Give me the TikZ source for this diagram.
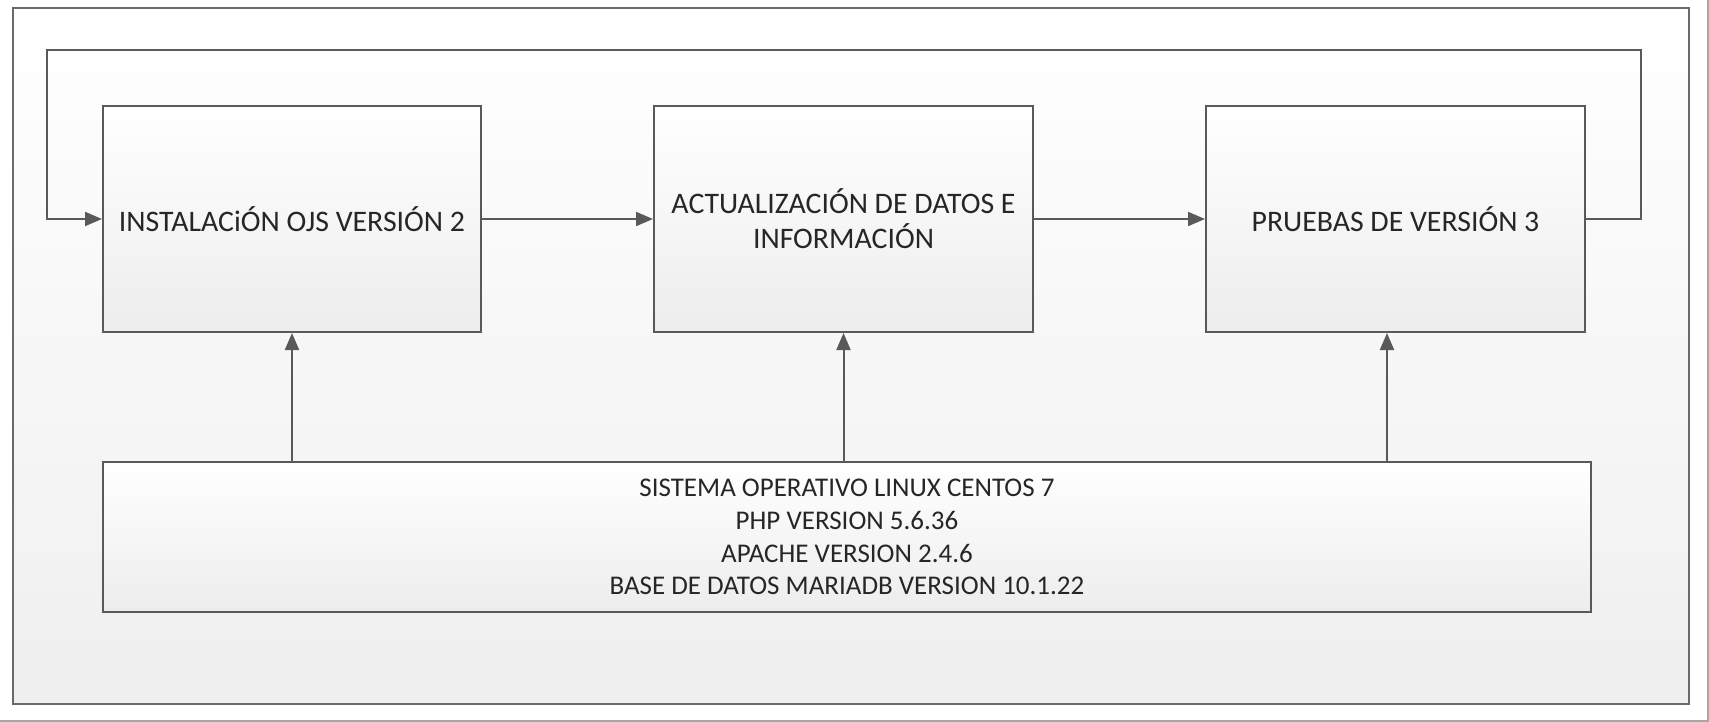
\documentclass[tikz,border=0pt]{standalone}
\usepackage{fontspec}
\setmainfont{Carlito}
\usetikzlibrary{arrows.meta}
\definecolor{linegray}{HTML}{595959}
\definecolor{framegray}{HTML}{6A6A6A}
\definecolor{txt}{HTML}{262626}
\definecolor{fillbot}{HTML}{EDEDED}
\definecolor{framebot}{HTML}{EFEFEF}
\tikzset{
  procbox/.style={draw=linegray, line width=2pt, top color=white, bottom color=fillbot,
    minimum width=378pt, minimum height=226pt, inner sep=0pt, align=center,
    text=txt, font=\fontsize{29.8}{35}\selectfont},
  basebox/.style={draw=linegray, line width=2pt, top color=white, bottom color=fillbot,
    minimum width=1488pt, minimum height=150pt, inner sep=0pt, align=center,
    text=txt, font=\fontsize{27}{32.7}\selectfont},
  arr/.style={draw=linegray, line width=2pt, -{Triangle[length=17pt,width=14pt]}},
  link/.style={draw=linegray, line width=2pt},
}
\begin{document}
\begin{tikzpicture}[x=1pt,y=-1pt]
\useasboundingbox (0,0) rectangle (1709,722);
\fill[white] (0,0) rectangle (1709,722);
\draw[gray!70, line width=1.5pt] (1708,0) -- (1708,721) -- (0,721);
\path[top color=white, bottom color=framebot] (13,8) rectangle (1689,704);
\draw[framegray, line width=2pt] (13,8) rectangle (1689,704);

\node[procbox] (b1) at (292,219) {INSTALACiÓN OJS VERSIÓN 2};
\node[procbox, minimum width=379pt] (b2) at (843.5,219) {ACTUALIZACIÓN DE DATOS E\\INFORMACIÓN};
\node[procbox, minimum width=379pt] (b3) at (1395.5,219) {PRUEBAS DE VERSIÓN 3};
\node[basebox] (base) at (847,537) {SISTEMA OPERATIVO LINUX CENTOS 7\\PHP VERSION 5.6.36\\APACHE VERSION 2.4.6\\BASE DE DATOS MARIADB VERSION 10.1.22};

\coordinate (lr) at (1641,50);
\coordinate (ll) at (47,50);
\coordinate (a3) at ([xshift=-8.5pt]b3.south);

\draw[arr] (b1) -- (b2);
\draw[arr] (b2) -- (b3);
\draw[arr] (b3.east) -| (lr) -- (ll) |- (b1.west);
\draw[arr] (b1.south |- base.north) -- (b1.south);
\draw[arr] (b2.south |- base.north) -- (b2.south);
\draw[arr] (a3 |- base.north) -- (a3);
\end{tikzpicture}
\end{document}
